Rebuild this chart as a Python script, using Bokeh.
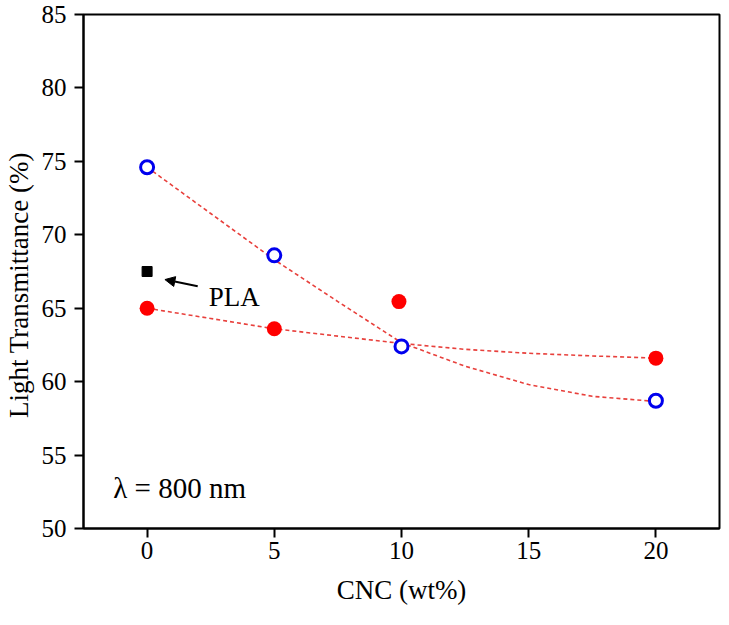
from bokeh.plotting import figure
from bokeh.models import Label, Arrow, NormalHead, FixedTicker, Range1d
from bokeh.embed import file_html
from bokeh.resources import INLINE

# Data
cnc = [0, 5, 10, 20]
blue_vals = [74.6, 68.6, 62.4, 58.7]
red_x = [0, 5, 9.9, 20]
red_vals = [65.0, 63.6, 65.45, 61.6]
pla_x = [0]
pla_val = [67.5]

# trend curves
fit_x = [0, 2.5, 5, 7.5, 10, 12.5, 15, 17.5, 20]
blue_fit = [74.6, 71.45, 68.3, 65.45, 62.65, 61.05, 59.8, 59.0, 58.65]
red_fit = [65.0, 64.3, 63.6, 63.1, 62.6, 62.2, 61.93, 61.75, 61.6]

x_ticks = [0, 5, 10, 15, 20]
y_ticks = [50, 55, 60, 65, 70, 75, 80, 85]

FONT = "Liberation Serif"
TICK_FS = "25px"

p = figure(width=721, height=617, output_backend="svg", toolbar_location=None,
           x_range=Range1d(-2.5, 22.5), y_range=Range1d(50, 85),
           min_border_left=80, min_border_right=2, min_border_top=14, min_border_bottom=89)

p.grid.visible = False
p.outline_line_color = "black"
p.outline_line_width = 2
p.outline_line_alpha = 1.0
p.background_fill_color = "white"
p.border_fill_color = "white"

for ax in (p.xaxis[0], p.yaxis[0]):
    ax.axis_line_width = 2
    ax.axis_line_color = "black"
    ax.major_tick_line_width = 2
    ax.major_tick_line_color = "black"
    ax.major_tick_out = 9
    ax.major_tick_in = 0
    ax.minor_tick_line_color = None
    ax.major_label_text_font = FONT
    ax.major_label_text_font_size = TICK_FS
    ax.major_label_text_color = "black"
    ax.axis_label_text_font = FONT
    ax.axis_label_text_font_size = "27px"
    ax.axis_label_text_font_style = "normal"
    ax.axis_label_text_color = "black"

p.xaxis.ticker = FixedTicker(ticks=x_ticks)
p.yaxis.ticker = FixedTicker(ticks=y_ticks)
p.xaxis.axis_label = "CNC (wt%)"
# trailing no-break spaces nudge the centred title slightly downward, as in the reference
p.yaxis.axis_label = "Light Transmittance (%)" + "\u00a0" * 4
p.xaxis.major_label_standoff = 4
p.yaxis.major_label_standoff = 8
p.xaxis.axis_label_standoff = 13
p.yaxis.axis_label_standoff = 5

line_color = "#e8403c"
p.line(fit_x, blue_fit, line_color=line_color, line_width=1.6, line_dash="4 3")
p.line(fit_x, red_fit, line_color=line_color, line_width=1.6, line_dash="4 3")

p.scatter(red_x, red_vals, marker="circle", size=15, fill_color="#ff0000",
          line_color="#ff0000", line_width=0)
p.scatter(cnc, blue_vals, marker="circle", size=13, fill_color="white",
          line_color="#0000ee", line_width=3)
p.scatter(pla_x, pla_val, marker="square", size=10, fill_color="black",
          line_color="black")

p.add_layout(Arrow(end=NormalHead(size=10, fill_color="black", line_color="black"),
                   x_start=1.99, y_start=66.5, x_end=0.7, y_end=66.95,
                   line_color="black", line_width=2))

p.add_layout(Label(x=2.42, y=65.73, text="PLA", text_font=FONT,
                   text_font_size="27px", text_color="black",
                   text_baseline="alphabetic"))
p.add_layout(Label(x=-1.33, y=52.73, text="λ = 800 nm", text_font=FONT,
                   text_font_size="29px", text_color="black",
                   text_baseline="alphabetic"))

open("out.html", "w").write(file_html(p, INLINE))
